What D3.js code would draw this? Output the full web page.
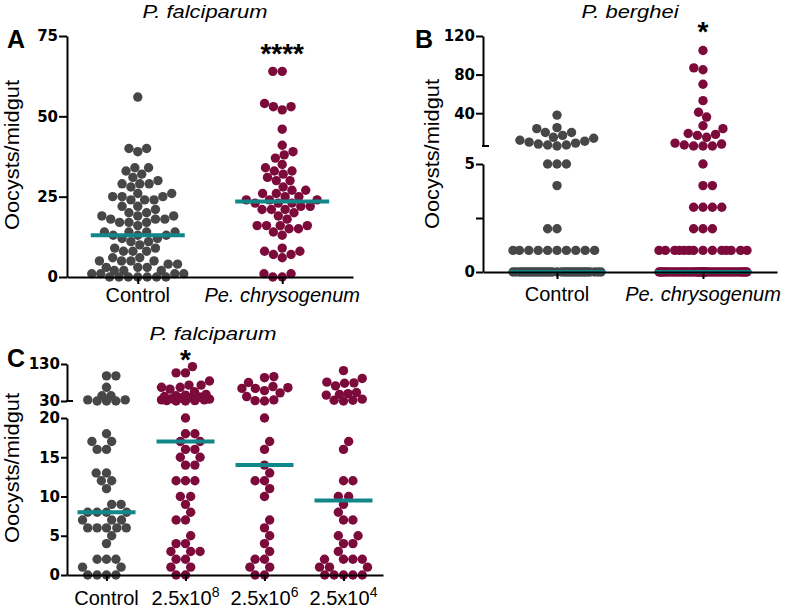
<!DOCTYPE html>
<html>
<head>
<meta charset="utf-8">
<script src="https://cdn.jsdelivr.net/npm/d3@7"></script>
<style>
body { margin: 0; background: #fff; }
text { font-family: Arial, "Liberation Sans", sans-serif; fill: #000; }
.tick text { font-family: "DejaVu Sans", sans-serif; font-weight: bold; font-size: 15px; }
</style>
</head>
<body>
<svg id="fig" width="787" height="611"></svg>
<script>
// ---- values (oocysts per midgut) ----
var catsAB = ["Control", "Pe. chrysogenum"];
var catsC = ["Control", "2.5x10^8", "2.5x10^6", "2.5x10^4"];

var ctrlA = [56, 40, 39, 40, 34, 34, 33, 32, 31, 30, 29, 29, 29, 28, 26, 26, 25, 25, 25, 24, 24, 24,
  22, 22, 21, 20, 20, 19, 19, 19, 18, 18, 18, 17, 17, 17, 16, 14, 14, 14, 14, 13, 13, 13,
  12, 12, 11, 11, 10, 9, 9, 8, 8, 8, 6, 6, 5, 5, 5, 5, 4, 4, 3, 3, 3, 2, 2, 2, 1, 1, 1, 1,
  0, 0, 0, 0, 0, 0, 0];
var peA = [64, 64, 54, 53, 52, 53, 46, 41, 39, 38, 37, 35, 34, 33, 33, 32, 31, 30, 30, 28, 27, 27,
  26, 26, 25, 25, 24, 24, 24, 23, 23, 23, 22, 22, 21, 21, 21, 20, 19, 18, 16, 16, 16, 16, 15, 15,
  14, 13, 9, 8, 8, 7, 7, 6, 1, 1, 0, 0];
var medA = [13, 23.5];

var ctrlB = [38, 25, 24, 20, 20, 17, 15, 14, 12, 11, 10, 9, 8, 7, 7, 6,
  5, 5, 5, 4, 2, 2,
  1, 1, 1, 1, 1, 1, 1, 1, 1, 1,
  0, 0, 0, 0, 0, 0, 0, 0, 0, 0, 0, 0, 0, 0, 0, 0, 0, 0, 0, 0, 0, 0, 0, 0, 0, 0, 0, 0, 0, 0, 0, 0, 0, 0];
var peB = [105, 87, 85, 70, 53, 41, 36, 27, 24, 19, 18, 17, 15, 9, 8, 7, 6, 6, 6,
  5, 4, 4, 3, 3, 3, 3, 2, 2, 2,
  1, 1, 1, 1, 1, 1, 1, 1, 1, 1, 1, 1, 1, 1,
  0, 0, 0, 0, 0, 0, 0, 0, 0, 0, 0, 0, 0, 0, 0, 0, 0, 0, 0, 0, 0, 0, 0, 0, 0, 0, 0, 0, 0, 0,
  0, 0, 0, 0, 0, 0, 0, 0, 0, 0, 0, 0, 0, 0, 0, 0];
var medB = [0, 0];

var ctrlC = [98, 98, 67, 44, 33, 30, 30, 30, 33, 44,
  18, 17, 17, 16, 16, 13, 13, 12, 12, 11, 9, 9, 8, 8, 8, 8, 7, 7, 7, 6, 6, 6, 6, 6, 5, 4,
  2, 2, 2, 1, 1, 0, 0, 0, 0];
var e8C = [123, 106, 106, 84, 73, 73, 67, 67, 62, 55, 48, 44, 41, 38, 35, 33, 31, 30, 30, 31, 33, 36, 39, 42, 46,
  20, 18, 18, 17, 17, 16, 16, 15, 15, 14, 14, 12, 12, 12, 10, 10, 9, 8, 7, 7, 5, 4, 4, 3, 3, 3,
  2, 2, 1, 1, 0, 0];
var e6C = [96, 93, 80, 69, 66, 64, 64, 58, 52, 42, 33, 31, 30,
  20, 17, 16, 14, 13, 12, 12, 11, 10, 7, 6, 5, 4, 3, 2, 2, 1, 1, 0, 0];
var e4C = [112, 91, 81, 79, 78, 71, 53, 50, 48, 46, 35, 32, 32, 30,
  17, 16, 12, 12, 10, 10, 9, 8, 7, 7, 5, 5, 4, 4, 3, 2, 2, 2, 2, 1, 1, 1, 0, 0, 0, 0, 0];
var medC = [8, 17, 14, 9.5];

var ticksA = [0, 25, 50, 75];
var ticksBlow = [0, 2.5, 5], ticksBhigh = [40, 80, 120];
var ticksClow = [0, 5, 10, 15, 20], ticksChigh = [30, 130];

// ---- drawing ----
var svg = d3.select("#fig");
var R = 4.7;
var grey = "#474747", wine = "#7c0b3c", teal = "#12878a";

// column scatter: each point goes as near the centre as it can without touching,
// and gets squeezed in when the column is full
function swarm(vals, ypos, half) {
  var d = 2 * R, placed = [];
  vals.slice().sort(d3.ascending).forEach(function(v, i) {
    var y = ypos(v), cand = [0];
    placed.forEach(function(p) {
      var dy = Math.abs(p.y - y);
      if (dy < d) {
        var dx = Math.sqrt(d * d - dy * dy);
        cand.push(p.x - dx, p.x + dx);
      }
    });
    var free = cand.filter(function(x) {
      return Math.abs(x) <= half && placed.every(function(p) {
        return (p.x - x) * (p.x - x) + (p.y - y) * (p.y - y) > d * d - 0.01;
      });
    });
    var x = 0;
    if (free.length) {
      free.sort(function(a, b) {
        var k = Math.abs(a) - Math.abs(b);
        if (Math.abs(k) > 1e-6) return k;
        return i % 2 ? a - b : b - a;
      });
      x = free[0];
    } else {
      var best = -1;
      for (var t = -half; t <= half + 1e-9; t += 0.5) {
        var m = d3.min(placed, function(p) { return Math.hypot(p.x - t, p.y - y); });
        if (m > best + 1e-6 || (Math.abs(m - best) <= 1e-6 && Math.abs(t) < Math.abs(x))) { best = m; x = t; }
      }
    }
    placed.push({ v: v, x: x, y: y });
  });
  return placed;
}

function column(vals, ypos, cx, half, color) {
  svg.append("g").selectAll("circle")
    .data(swarm(vals, ypos, half))
    .join("circle")
    .attr("cx", function(d) { return cx + d.x; })
    .attr("cy", function(d) { return d.y; })
    .attr("r", R)
    .attr("fill", color);
}

function medianLine(m, ypos, cx, w) {
  svg.append("line")
    .attr("x1", cx - w).attr("x2", cx + w)
    .attr("y1", ypos(m)).attr("y2", ypos(m))
    .attr("stroke", teal).attr("stroke-width", 4);
}

function styleAxis(g) {
  g.selectAll(".domain, .tick line").attr("stroke", "#000").attr("stroke-width", 2);
  g.selectAll(".tick text").attr("fill", "#000");
}

function breakMark(x, y) {
  svg.append("line").attr("x1", x - 1).attr("x2", x + 6).attr("y1", y).attr("y2", y)
    .attr("stroke", "#000").attr("stroke-width", 2);
}

function yLabel(x, y) {
  svg.append("text").attr("transform", "translate(" + x + "," + y + ") rotate(-90)")
    .attr("text-anchor", "middle").style("font-size", "19.5px")
    .attr("textLength", 150).attr("lengthAdjust", "spacingAndGlyphs")
    .text("Oocysts/midgut");
}

function addText(x, y, str, size, weight, italic) {
  return svg.append("text").attr("x", x).attr("y", y).attr("text-anchor", "middle")
    .style("font-size", size + "px").style("font-weight", weight)
    .style("font-style", italic ? "italic" : "normal").text(str);
}

function title(x, y, str, len) {
  addText(x, y, str, 19, "normal", true)
    .attr("textLength", len).attr("lengthAdjust", "spacingAndGlyphs");
}

function catLabels(x, cats, y) {
  svg.append("g").selectAll("text").data(cats).join("text")
    .attr("x", function(d) { return x(d); })
    .attr("y", y)
    .attr("text-anchor", "middle")
    .style("font-size", "20px")
    .style("font-style", function(d) { return d.indexOf("Pe.") === 0 ? "italic" : "normal"; })
    .each(function(d) {
      var parts = d.split("^");
      var t = d3.select(this);
      t.append("tspan").text(parts[0]);
      if (parts[1]) t.append("tspan").attr("dy", -8).style("font-size", "14px").text(parts[1]);
    });
}

// ---------- panel A ----------
var yA = d3.scaleLinear().domain([0, 75]).range([277, 36]);
var xA = d3.scalePoint().domain(catsAB).range([67, 353]).padding(0.49);
column(ctrlA, yA, xA(catsAB[0]), 46, grey);
column(peA, yA, xA(catsAB[1]), 44, wine);
medA.forEach(function(m, i) { medianLine(m, yA, xA(catsAB[i]), 47); });
svg.append("g").attr("transform", "translate(67,0)")
  .call(d3.axisLeft(yA).tickValues(ticksA).tickSize(8).tickSizeOuter(0).tickPadding(1))
  .call(styleAxis);
svg.append("g").attr("transform", "translate(0,277)")
  .call(d3.axisBottom(xA).tickSize(7).tickSizeOuter(0).tickFormat(""))
  .call(styleAxis);
catLabels(xA, catsAB, 302);
yLabel(19, 155);
title(205, 18, "P. falciparum", 125);
addText(16, 48, "A", 25, "bold", false);
addText(xA(catsAB[1]), 63, "****", 28, "bold", false);

// ---------- panel B (broken axis) ----------
var yBlo = d3.scaleLinear().domain([0, 5]).range([272, 164]);
var yBhi = d3.scaleLinear().domain([6, 120]).range([146, 36]);
function yB(v) { return v <= 5 ? yBlo(v) : yBhi(v); }
var xB = d3.scalePoint().domain(catsAB).range([483, 777]).padding(0.507);
column(ctrlB, yB, xB(catsAB[0]), 44, grey);
column(peB, yB, xB(catsAB[1]), 44, wine);
medB.forEach(function(m, i) { medianLine(m, yB, xB(catsAB[i]), 48); });
svg.append("g").attr("transform", "translate(483,0)")
  .call(d3.axisLeft(yBlo).tickValues(ticksBlow).tickSize(7).tickSizeOuter(0).tickPadding(1)
    .tickFormat(function(v) { return v === 2.5 ? "" : v; }))
  .call(styleAxis);
svg.append("g").attr("transform", "translate(483,0)")
  .call(d3.axisLeft(yBhi).tickValues(ticksBhigh).tickSize(7).tickSizeOuter(0).tickPadding(1))
  .call(styleAxis);
breakMark(483, yBhi(6));
svg.append("g").attr("transform", "translate(0,272)")
  .call(d3.axisBottom(xB).tickSize(7).tickSizeOuter(0).tickFormat(""))
  .call(styleAxis);
catLabels(xB, catsAB, 301);
yLabel(439, 154);
title(630, 18, "P. berghei", 97);
addText(424, 48, "B", 25, "bold", false);
addText(xB(catsAB[1]), 41, "*", 28, "bold", false);

// ---------- panel C (broken axis) ----------
var yClo = d3.scaleLinear().domain([0, 20]).range([575, 418]);
var yChi = d3.scaleLinear().domain([30, 130]).range([401, 364]);
function yC(v) { return v <= 20 ? yClo(v) : yChi(v); }
var xC = d3.scalePoint().domain(catsC).range([67, 383]).padding(0.5);
var seriesC = [ctrlC, e8C, e6C, e4C];
seriesC.forEach(function(s, i) { column(s, yC, xC(catsC[i]), 24, i === 0 ? grey : wine); });
medC.forEach(function(m, i) { medianLine(m, yC, xC(catsC[i]), 29); });
svg.append("g").attr("transform", "translate(67,0)")
  .call(d3.axisLeft(yClo).tickValues(ticksClow).tickSize(6).tickSizeOuter(0).tickPadding(1))
  .call(styleAxis);
svg.append("g").attr("transform", "translate(67,0)")
  .call(d3.axisLeft(yChi).tickValues(ticksChigh).tickSize(6).tickSizeOuter(0).tickPadding(1))
  .call(styleAxis);
breakMark(67, yChi(30));
svg.append("g").attr("transform", "translate(0,575)")
  .call(d3.axisBottom(xC).tickSize(6).tickSizeOuter(0).tickFormat(""))
  .call(styleAxis);
catLabels(xC, catsC, 605);
yLabel(19, 468);
title(213, 340, "P. falciparum", 127);
addText(16, 367, "C", 25, "bold", false);
addText(xC(catsC[1]), 369, "*", 28, "bold", false);
</script>
</body>
</html>
